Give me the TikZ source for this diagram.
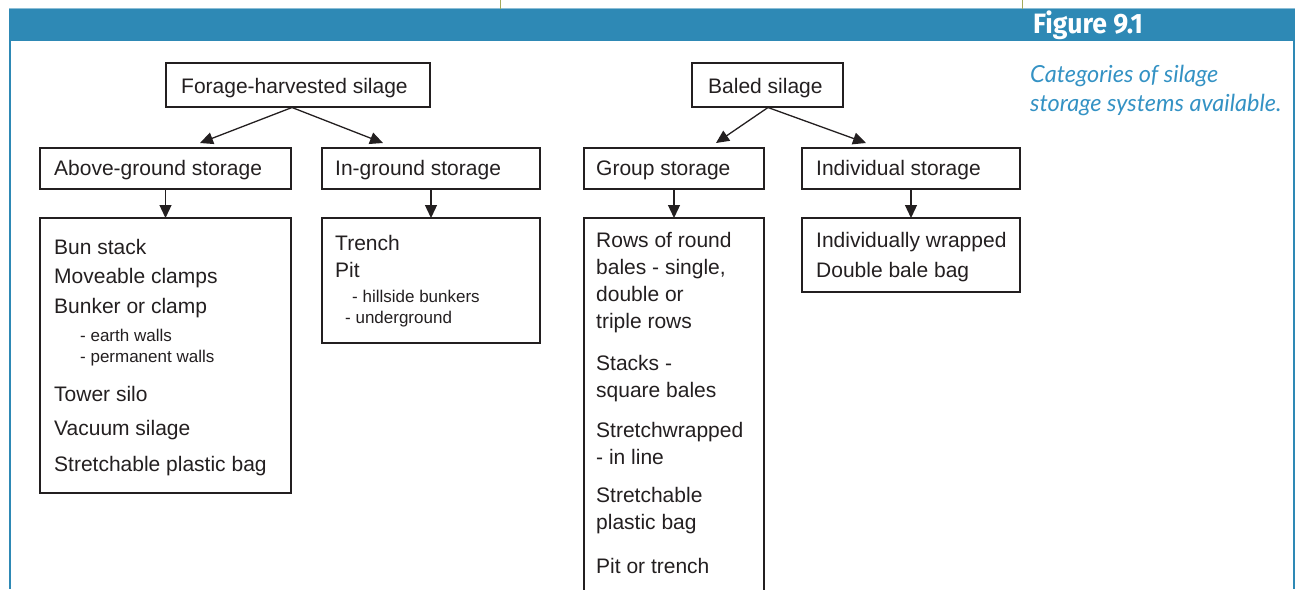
\documentclass[tikz,border=0pt]{standalone}
\usepackage{fontspec}
\setmainfont{Liberation Sans}
\newfontfamily\capfont{Lato}
\newfontfamily\figfont[FakeStretch=0.95]{Fira Sans}
\usetikzlibrary{arrows.meta}
\definecolor{barblue}{RGB}{46,137,181}
\definecolor{capblue}{RGB}{52,146,196}
\definecolor{ink}{RGB}{35,31,32}
\definecolor{olivel}{RGB}{165,170,90}
\begin{document}
\begin{tikzpicture}[x=1pt,y=-1pt,
  box/.style={draw=ink, line width=1.3pt, inner sep=0pt, outer sep=0pt, anchor=north west},
  txt/.style={inner sep=0pt, anchor=base west, text=ink, font=\fontsize{21}{25}\selectfont},
  subtxt/.style={inner sep=0pt, anchor=base west, text=ink, font=\fontsize{17}{20}\selectfont},
  arr/.style={draw=ink, line width=1.3pt, -{Triangle[length=13pt,width=12pt]}},
  capt/.style={inner sep=0pt, anchor=base west, text=capblue, font=\capfont\itshape\fontsize{23.5}{28}\selectfont}]
\useasboundingbox (0,0) rectangle (1300,589);
% frame
\fill[barblue] (9,8.5) rectangle (1295,41);
\draw[line width=0.8pt, barblue!55] (9,8.6) -- (1295,8.6);
\draw[line width=2pt, barblue] (10,41) -- (10,589);
\draw[line width=2pt, barblue] (1294,41) -- (1294,589);
\draw[line width=1pt, olivel] (500.5,0) -- (500.5,8.5);
\draw[line width=1pt, olivel] (1022,0) -- (1022,8.5);
\node[inner sep=0pt, anchor=base west, text=white, font=\figfont\bfseries\fontsize{28}{32}\selectfont] (fig) at (1033,33) {Figure 9.1};
\node[capt] (cap1) at (1030,82) {Categories of silage};
\node[capt] (cap2) at (1030,111) {storage systems available.};
% boxes
\node[box, minimum width=264pt, minimum height=44pt] (fhs) at (166,63) {};
\node[box, minimum width=251pt, minimum height=41pt] (ags) at (40,148) {};
\node[box, minimum width=218pt, minimum height=41pt] (igs) at (322,148) {};
\node[box, minimum width=251pt, minimum height=275pt] (agl) at (40,218) {};
\node[box, minimum width=218pt, minimum height=125pt] (igl) at (322,218) {};
\node[box, minimum width=151pt, minimum height=44pt] (bs) at (692,63) {};
\node[box, minimum width=180pt, minimum height=41pt] (gs) at (584,148) {};
\node[box, minimum width=218pt, minimum height=41pt] (is) at (802,148) {};
\node[box, minimum width=180pt, minimum height=390pt] (gl) at (584,218) {};
\node[box, minimum width=218pt, minimum height=74pt] (il) at (802,218) {};
% header texts
\node[txt] (tfhs) at (181,93) {Forage-harvested silage};
\node[txt] (tags) at (54,175) {Above-ground storage};
\node[txt] (tigs) at (335,175) {In-ground storage};
\node[txt] (tbs) at (708,93) {Baled silage};
\node[txt] (tgs) at (596,175) {Group storage};
\node[txt] (tis) at (816,175) {Individual storage};
% above-ground list
\node[txt] (a1) at (54,254) {Bun stack};
\node[txt] (a2) at (54,283) {Moveable clamps};
\node[txt] (a3) at (54,313) {Bunker or clamp};
\node[subtxt] (a4) at (80,341) {- earth walls};
\node[subtxt] (a5) at (80,362) {- permanent walls};
\node[txt] (a6) at (54,401) {Tower silo};
\node[txt] (a7) at (54,435) {Vacuum silage};
\node[txt] (a8) at (54,471) {Stretchable plastic bag};
% in-ground list
\node[txt] (b1) at (335,250) {Trench};
\node[txt] (b2) at (335,277) {Pit};
\node[subtxt] (b3) at (352,302) {- hillside bunkers};
\node[subtxt] (b4) at (345,323) {- underground};
% group list
\node[txt] (g1) at (596,247) {Rows of round};
\node[txt] (g2) at (596,274) {bales - single,};
\node[txt] (g3) at (596,301) {double or};
\node[txt] (g4) at (596,328) {triple rows};
\node[txt] (g5) at (596,370) {Stacks -};
\node[txt] (g6) at (596,397) {square bales};
\node[txt] (g7) at (596,437) {Stretchwrapped};
\node[txt] (g8) at (596,464) {- in line};
\node[txt] (g9) at (596,502) {Stretchable};
\node[txt] (g10) at (596,529) {plastic bag};
\node[txt] (g11) at (596,573) {Pit or trench};
% individual list
\node[txt] (i1) at (816,247) {Individually wrapped};
\node[txt] (i2) at (816,277) {Double bale bag};
% connectors
\coordinate (fhsS) at (292,107.5);
\coordinate (agsT) at (200,143);
\coordinate (igsT) at (383,143);
\coordinate (bsS) at (768,107.5);
\coordinate (gsT) at (716,143);
\coordinate (isT) at (866,143);
\draw[arr] (fhsS) -- (agsT);
\draw[arr] (fhsS) -- (igsT);
\draw[arr] (bsS) -- (gsT);
\draw[arr] (bsS) -- (isT);
\draw[arr] (ags.south) -- (agl.north);
\draw[arr] (igs.south) -- (igl.north);
\draw[arr] (gs.south) -- (gl.north);
\draw[arr] (is.south) -- (il.north);
\end{tikzpicture}
\end{document}
